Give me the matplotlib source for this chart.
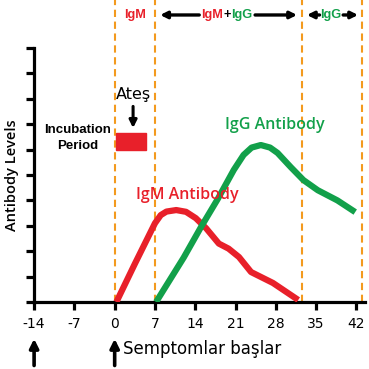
import matplotlib
matplotlib.use("Agg")
import matplotlib.pyplot as plt
from matplotlib.patches import Rectangle

plt.rcParams["axes.unicode_minus"] = False

# days after symptom onset vs antibody level
igm_days = [0.3, 3.5, 7.0, 8.0, 9.0, 10.7, 12.4, 14.1, 15.9, 18.1, 19.8, 21.6, 23.7, 27.5, 31.9]
igm_level = [0.0, 1.5, 3.1, 3.42, 3.56, 3.62, 3.55, 3.3, 2.9, 2.3, 2.1, 1.77, 1.18, 0.75, 0.08]

igg_days = [7.2, 12.0, 15.0, 17.9, 20.7, 22.4, 23.8, 25.4, 27.0, 28.3, 30.6, 32.8, 35.3, 38.7, 41.8]
igg_level = [0.0, 1.75, 2.95, 4.05, 5.2, 5.79, 6.08, 6.18, 6.08, 5.87, 5.31, 4.8, 4.4, 4.0, 3.54]

x_ticks = [-14, -7, 0, 7, 14, 21, 28, 35, 42]
y_ticks = list(range(0, 11))
phase_lines = [0, 7, 32.6, 43.0]
incubation = (0.3, 5.5, 5.98, 6.65)  # x0, x1, y0, y1

RED = "#E8202A"
GREEN = "#12A04A"
ORANGE = "#F39A1E"
COND = ["Liberation Sans", "DejaVu Sans"]
SOFT = ["Open Sans", "DejaVu Sans"]

fig = plt.figure(figsize=(3.69, 3.69), dpi=100)
W = 369.0
ax = fig.add_axes([34.1 / W, 67 / W, (365 - 34.1) / W, 302 / W])
ax.set_xlim(-14, 43.5)
ax.set_ylim(0, 302 / 25.4)

for s in ["top", "right"]:
    ax.spines[s].set_visible(False)
for s in ["left", "bottom"]:
    ax.spines[s].set_linewidth(2.3)
ax.spines["left"].set_bounds(0, 10)
ax.set_xticks(x_ticks)
ax.set_yticks(y_ticks)
ax.set_yticklabels([])
ax.tick_params(axis="both", length=6, width=2.3, direction="out")
ax.tick_params(axis="x", pad=5, labelsize=10)

for d in phase_lines:
    ax.plot([d, d], [0, 12], color=ORANGE, lw=1.5, ls=(0, (3.5, 2.2)), clip_on=False, zorder=1)

ax.plot(igm_days, igm_level, color=RED, lw=4.5, solid_capstyle="butt", solid_joinstyle="round", zorder=3)
ax.plot(igg_days, igg_level, color=GREEN, lw=4.5, solid_capstyle="butt", solid_joinstyle="round", zorder=3)

ax.text(12.6, 4.2, "IgM Antibody", color=RED, fontsize=11.5, family=SOFT, weight="semibold",
        ha="center", va="center")
ax.text(27.9, 6.97, "IgG Antibody", color=GREEN, fontsize=11.5, family=SOFT, weight="semibold",
        ha="center", va="center")

x0, x1, y0, y1 = incubation
ax.add_patch(Rectangle((x0, y0), x1 - x0, y1 - y0, color=RED, zorder=4))
ax.text(-6.5, 6.46, "Incubation\nPeriod", fontsize=9.5, family=COND, weight="bold",
        ha="center", va="center", linespacing=1.5)
ax.text(3.2, 8.15, "Ateş", fontsize=11.5, ha="center", va="center")
arrow = dict(arrowstyle="-|>", lw=2.2, color="black", mutation_scale=11, shrinkA=0, shrinkB=0)
ax.annotate("", xy=(3.2, 6.85), xytext=(3.2, 7.7), arrowprops=arrow, annotation_clip=False)

# top phase labels
ty = 11.3
lab = dict(fontsize=9.2, family=COND, weight="bold", va="center")
ax.text(3.55, ty, "IgM", color=RED, ha="center", **lab)
ax.text(19.55, ty, "+", color="black", ha="center", **lab)
ax.text(18.9, ty, "IgM", color=RED, ha="right", **lab)
ax.text(20.2, ty, "IgG", color=GREEN, ha="left", **lab)
ax.text(37.6, ty, "IgG", color=GREEN, ha="center", **lab)
small = dict(arrowstyle="-|>", lw=2.4, color="black", mutation_scale=10, shrinkA=0, shrinkB=0)
ax.annotate("", xy=(7.9, ty), xytext=(14.7, ty), arrowprops=small, annotation_clip=False)
ax.annotate("", xy=(31.7, ty), xytext=(24.4, ty), arrowprops=small, annotation_clip=False)
ax.annotate("", xy=(33.4, ty), xytext=(35.6, ty), arrowprops=small, annotation_clip=False)
ax.annotate("", xy=(42.3, ty), xytext=(39.7, ty), arrowprops=small, annotation_clip=False)

# below the axis
up = dict(arrowstyle="-|>", lw=2.6, color="black", mutation_scale=13, shrinkA=0, shrinkB=0)
for d in [-14, 0]:
    ax.annotate("", xy=(d, -1.45), xytext=(d, -2.5), arrowprops=up, annotation_clip=False)
ax.text(1.45, -1.85, "Semptomlar başlar", fontsize=12, ha="left", va="center")

fig.text(12 / W, 1 - 175 / W, "Antibody Levels", rotation=90, fontsize=10.5, family=SOFT,
         weight="semibold", ha="center", va="center")

fig.savefig("out.png", dpi=100)
